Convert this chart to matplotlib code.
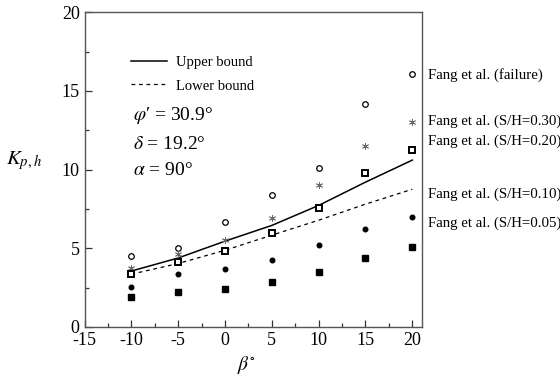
import matplotlib
matplotlib.use("Agg")
import matplotlib.pyplot as plt
from matplotlib.ticker import MultipleLocator

plt.rcParams['font.family'] = ['Liberation Serif', 'DejaVu Serif']
plt.rcParams['mathtext.fontset'] = 'stix'
plt.rcParams['axes.unicode_minus'] = False

beta = [-10, -5, 0, 5, 10, 15, 20]
upper_bound = [3.55, 4.38, 5.45, 6.45, 7.72, 9.2, 10.6]
lower_bound = [3.35, 4.03, 4.87, 5.83, 6.78, 7.8, 8.75]
failure = [4.49, 5.02, 6.65, 8.37, 10.07, 14.14, 16.08]
sh030 = [3.77, 4.62, 5.51, 6.95, 9.0, 11.5, 13.0]
sh020 = [3.35, 4.11, 4.83, 5.94, 7.53, 9.81, 11.25]
sh010 = [2.54, 3.33, 3.71, 4.24, 5.19, 6.19, 6.99]
sh005 = [1.93, 2.23, 2.38, 2.84, 3.48, 4.37, 5.05]
series_labels = ["Fang et al. (failure)", "Fang et al. (S/H=0.30)", "Fang et al. (S/H=0.20)",
                 "Fang et al. (S/H=0.10)", "Fang et al. (S/H=0.05)"]

fig = plt.figure(figsize=(5.6, 3.81), dpi=100)
ax = fig.add_axes([0.151, 0.142, 0.602, 0.826])

ax.plot(beta, upper_bound, color='black', lw=1.1, label='Upper bound')
ax.plot(beta, lower_bound, color='black', lw=0.9, ls=(0, (3, 3)), label='Lower bound')

ax.plot(beta, failure, ls='none', marker='o', ms=4.0, mfc='white', mec='black', mew=0.9)
ax.plot(beta, sh030, ls='none', marker=(6, 2, 0), ms=5, color='#666666', mew=0.6)
ax.plot(beta, sh020, ls='none', marker='s', ms=4.3, mfc='white', mec='black', mew=1.4)
ax.plot(beta, sh010, ls='none', marker='o', ms=3.3, color='black')
ax.plot(beta, sh005, ls='none', marker='s', ms=4.8, color='black')

label_y = [16.0, 13.1, 11.8, 8.4, 6.6]
for lab, yy in zip(series_labels, label_y):
    ax.text(1.02, yy, lab, transform=ax.get_yaxis_transform(), fontsize=10.7,
            va='center', ha='left', clip_on=False)

ax.set_xlim(-15, 21)
ax.set_ylim(0, 20)
ax.xaxis.set_major_locator(MultipleLocator(5))
ax.xaxis.set_minor_locator(MultipleLocator(2.5))
ax.yaxis.set_major_locator(MultipleLocator(5))
ax.yaxis.set_minor_locator(MultipleLocator(2.5))
ax.tick_params(which='both', direction='in', top=False, right=False, labelsize=13)
ax.tick_params(which='major', length=5, width=0.9, color='#333333')
ax.tick_params(which='minor', length=3, width=0.9, color='#333333')
for s in ax.spines.values():
    s.set_color('#555555')
    s.set_linewidth(1.0)

ax.set_xlabel(r'$\beta^{\circ}$', fontsize=14)
ax.xaxis.set_label_coords(0.482, -0.085)
ax.set_ylabel(r'$K_{p,h}$', fontsize=15, rotation=0, va='center', ha='center')
ax.yaxis.set_label_coords(-0.18, 0.53)

ax.legend(loc='upper left', bbox_to_anchor=(0.115, 0.885), frameon=False, fontsize=10.5,
          handlelength=2.5, handletextpad=0.6, labelspacing=0.72, borderpad=0)

ax.text(0.144, 0.673, "$\\varphi$\u2032 = 30.9\u00b0", transform=ax.transAxes, fontsize=14, va='center')
ax.text(0.144, 0.578, "$\\delta$ = 19.2\u00b0", transform=ax.transAxes, fontsize=14, va='center')
ax.text(0.144, 0.498, "$\\alpha$ = 90\u00b0", transform=ax.transAxes, fontsize=14, va='center')

fig.savefig('out.png', dpi=100)
